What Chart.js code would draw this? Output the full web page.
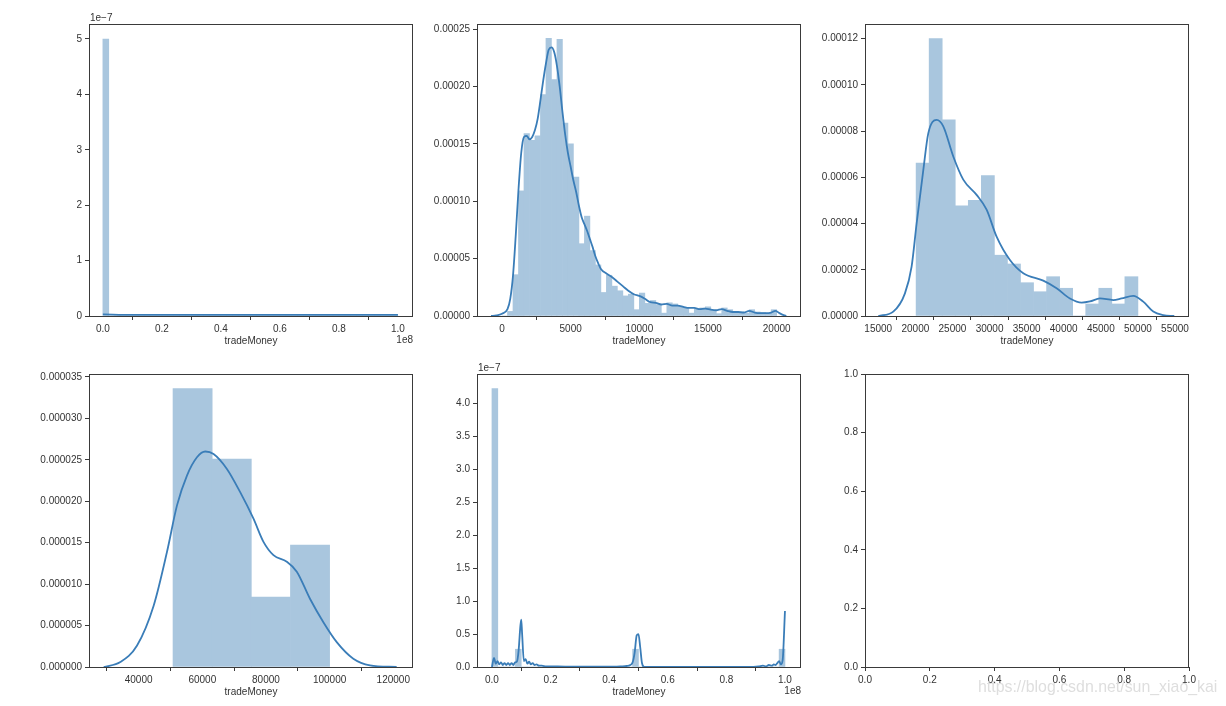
<!DOCTYPE html>
<html>
<head>
<meta charset="utf-8">
<script src="https://cdn.jsdelivr.net/npm/chart.js@4.4.0/dist/chart.umd.min.js"></script>
<style>
  body { margin: 0; background: #fff; width: 1226px; height: 706px; overflow: hidden; position: relative; }
  canvas { position: absolute; }
  #mark { position: absolute; left: 978px; top: 678px; font: 15.9px "Liberation Sans", Arial, sans-serif; color: #dedede; white-space: nowrap; }
</style>
</head>
<body>
<canvas id="c1"></canvas>
<canvas id="c2"></canvas>
<canvas id="c3"></canvas>
<canvas id="c4"></canvas>
<canvas id="c5"></canvas>
<canvas id="c6"></canvas>
<div id="mark">https://blog.csdn.net/sun_xiao_kai</div>
<script>
// ---- plot 1: all tradeMoney (x in 1e8, y in 1e-7) ----
var p1BinStart = 0;
var p1BinWidth = 0.02;
var p1Density = [5.0, 0, 0, 0, 0, 0, 0, 0, 0, 0,
                 0, 0, 0, 0, 0, 0, 0, 0, 0, 0,
                 0, 0, 0, 0, 0, 0, 0, 0, 0, 0,
                 0, 0, 0, 0, 0, 0, 0, 0, 0, 0,
                 0, 0, 0, 0, 0, 0, 0, 0, 0, 0];
var p1KdeX = [0, 0.1, 0.2, 0.3, 0.4, 0.5, 0.6, 0.7, 0.8, 0.9, 1.0];
var p1KdeY = [0.03, 0.02, 0.02, 0.02, 0.02, 0.02, 0.02, 0.02, 0.02, 0.02, 0.02];
var p1XTicks = [0, 0.2, 0.4, 0.6, 0.8, 1.0];
var p1YTicks = [0, 1, 2, 3, 4, 5];

// ---- plot 2: tradeMoney up to 20000 ----
var p2BinStart = 0;
var p2BinWidth = 400;
var p2Density = [0, 0.000004, 0.000036, 0.000109, 0.000159, 0.000153, 0.000157, 0.000193, 0.000242, 0.000206,
                 0.000241, 0.000168, 0.000150, 0.000121, 0.000063, 0.000087, 0.000057, 0.0000445, 0.0000205, 0.0000355,
                 0.000026, 0.000022, 0.0000175, 0.000019, 0.0000055, 0.000020, 0.000011, 0.0000135, 0.000010, 0.0000025,
                 0.0000115, 0.0000105, 0.0000085, 0.0000075, 0.0000025, 0.0000065, 0.000007, 0.000008, 0.000005, 0.000002,
                 0.000007, 0.0000055, 0.000004, 0.000004, 0.0000025, 0.0000055, 0.0000035, 0.000003, 0.0000025, 0.0000055];
var p2KdeX = [-800, -400, 0, 400, 600, 800, 1000, 1200, 1400, 1600, 1800, 2000, 2200, 2400, 2600, 2800, 3000, 3200, 3400, 3600,
              3800, 4000, 4200, 4400, 4600, 4800, 5000, 5200, 5400, 5600, 5800, 6000, 6200, 6400, 6600, 6800, 7000, 7200, 7600, 8000,
              8400, 8800, 9200, 9600, 10000, 10400, 10800, 11200, 11600, 12000, 12400, 12800, 13200, 13600, 14000, 14400, 14800, 15200, 15600, 16000,
              16400, 16800, 17200, 17600, 18000, 18400, 18800, 19200, 19600, 19900, 20200, 20500, 20700];
var p2KdeY = [0, 0.0000005, 0.000002, 0.000006, 0.000015, 0.000035, 0.00007, 0.00011, 0.000142, 0.000156, 0.000157, 0.000154, 0.000156, 0.000162, 0.000172, 0.000188, 0.000205, 0.00022, 0.000232, 0.000234,
              0.00023, 0.000218, 0.0002, 0.000178, 0.000158, 0.000142, 0.00013, 0.000118, 0.000108, 0.000096, 0.000086, 0.00008, 0.000074, 0.000067, 0.00006, 0.000052, 0.000046, 0.000041, 0.000037, 0.000034,
              0.00003, 0.000026, 0.000022, 0.000019, 0.0000175, 0.000015, 0.000012, 0.0000115, 0.00001, 0.0000105, 0.000009, 0.000009, 0.000008, 0.000007, 0.000007, 0.000006, 0.0000065, 0.0000055, 0.000005, 0.000006,
              0.0000045, 0.0000035, 0.0000035, 0.000003, 0.0000045, 0.000003, 0.0000025, 0.0000025, 0.000003, 0.0000045, 0.0000025, 0.0000008, 0];
var p2XTicks = [0, 5000, 10000, 15000, 20000];
var p2YTicks = [0, 0.00005, 0.0001, 0.00015, 0.0002, 0.00025];

// ---- plot 3: 20000 - 50000 ----
var p3BinStart = 20100;
var p3BinWidth = 1759;
var p3Density = [0.0000661, 0.00012, 0.0000848, 0.0000477, 0.00005, 0.0000607, 0.0000263, 0.0000225, 0.0000144,
                 0.0000105, 0.000017, 0.000012, 0, 0.0000052, 0.000012, 0.0000052, 0.000017];
var p3KdeX = [15000, 17022, 18594, 19493, 20167, 21065, 21740, 22863, 23762, 25110, 26458, 28256, 29604, 30952, 32750,
              34547, 37243, 39040, 40837, 42410, 43533, 44881, 46679, 47802, 49375, 50723, 52071, 53419, 54902];
var p3KdeY = [0, 0.0000019, 0.0000098, 0.0000214, 0.00004, 0.000063, 0.000079, 0.0000848, 0.000082, 0.000069, 0.000059, 0.0000524, 0.000046, 0.0000343, 0.0000242,
              0.0000185, 0.0000153, 0.000012, 0.0000076, 0.0000058, 0.0000063, 0.0000076, 0.0000069, 0.0000076, 0.0000087, 0.0000062, 0.0000019, 0.0000004, 0];
var p3XTicks = [15000, 20000, 25000, 30000, 35000, 40000, 45000, 50000, 55000];
var p3YTicks = [0, 0.00002, 0.00004, 0.00006, 0.00008, 0.0001, 0.00012];

// ---- plot 4: 50000 - 100000 ----
var p4BinStart = 50800;
var p4BinWidth = 12300;
var p4Density = [0.0000336, 0.0000251, 0.00000845, 0.0000147];
var p4KdeX = [29020, 34260, 39500, 44710, 48910, 52050, 55180, 58320, 60930, 63530, 67730, 71900, 76080, 79220, 82350,
              86550, 89690, 93870, 98040, 102240, 107450, 112690, 121060];
var p4KdeY = [0, 0.0000006, 0.0000026, 0.0000074, 0.0000139, 0.0000195, 0.0000231, 0.0000253, 0.000026, 0.0000257, 0.0000239, 0.0000211, 0.0000179, 0.0000151, 0.0000135,
              0.0000127, 0.0000115, 0.0000082, 0.0000054, 0.000003, 0.000001, 0.0000002, 0];
var p4XTicks = [40000, 60000, 80000, 100000, 120000];
var p4YTicks = [0, 0.000005, 0.00001, 0.000015, 0.00002, 0.000025, 0.00003, 0.000035];

// ---- plot 5: above 100000 (x in 1e8, y in 1e-7) ----
var p5BinStart = 0;
var p5BinWidth = 0.02;
var p5Density = [4.23, 0, 0, 0, 0.27, 0, 0, 0, 0, 0,
                 0, 0, 0, 0, 0, 0, 0, 0, 0, 0,
                 0, 0, 0, 0, 0.27, 0, 0, 0, 0, 0,
                 0, 0, 0, 0, 0, 0, 0, 0, 0, 0,
                 0, 0, 0, 0, 0, 0, 0, 0, 0, 0.27];
var p5KdeX = [0, 0.007, 0.013, 0.019, 0.025, 0.031, 0.037, 0.043, 0.049, 0.055, 0.061, 0.067, 0.073, 0.079, 0.085, 0.091,
              0.097, 0.100, 0.103, 0.109, 0.115, 0.121, 0.127, 0.133, 0.139, 0.145, 0.152, 0.160, 0.170, 0.185, 0.200,
              0.250, 0.300, 0.350, 0.400, 0.440, 0.460, 0.472, 0.480, 0.487, 0.494, 0.500, 0.506, 0.512, 0.520, 0.600,
              0.700, 0.800, 0.880, 0.910, 0.925, 0.935, 0.945, 0.955, 0.962, 0.968, 0.974, 0.980, 0.986, 0.992, 1.000];
var p5KdeY = [0, 0.14, 0.05, 0.09, 0.04, 0.07, 0.03, 0.06, 0.03, 0.06, 0.03, 0.06, 0.03, 0.07, 0.08, 0.25,
              0.62, 0.72, 0.50, 0.09, 0.12, 0.05, 0.08, 0.04, 0.06, 0.03, 0.04, 0.02, 0.02, 0.01, 0.01,
              0.005, 0.005, 0.005, 0.005, 0.01, 0.015, 0.03, 0.07, 0.22, 0.48, 0.50, 0.30, 0.06, 0, 0,
              0, 0, 0, 0.01, 0.02, 0.01, 0.03, 0.02, 0.04, 0.03, 0.06, 0.09, 0.04, 0.10, 0.85];
var p5XTicks = [0, 0.2, 0.4, 0.6, 0.8, 1.0];
var p5YTicks = [0, 0.5, 1.0, 1.5, 2.0, 2.5, 3.0, 3.5, 4.0];

// ---- plot 6: empty axes ----
var p6Ticks = [0, 0.2, 0.4, 0.6, 0.8, 1.0];

// layout of the 2x3 grid (page pixels)
var colLeft = [89, 477, 865];
var plotW = 324;
var rowTop = [24, 374];
var rowH = [292, 293];
var AXIS_W = 88, AXIS_H = 40, PAD_T = 24, PAD_R = 24;

var textColor = '#333333';
var spineColor = '#3a3a3a';
var barColor = '#a9c6de';
var lineColor = '#3a7db8';
var fontFamily = '"Liberation Sans", Arial, sans-serif';

var framePlugin = {
    id: 'frame',
    afterDraw: function(chart, args, opts) {
        var ca = chart.chartArea;
        var ctx = chart.ctx;
        ctx.save();
        ctx.strokeStyle = spineColor;
        ctx.lineWidth = 1;
        ctx.strokeRect(ca.left + 0.5, ca.top + 0.5, ca.right - ca.left - 1, ca.bottom - ca.top);
        ctx.fillStyle = textColor;
        ctx.font = '10px ' + fontFamily;
        ctx.textBaseline = 'middle';
        if (opts.yOffset) {
            ctx.textAlign = 'left';
            ctx.fillText(opts.yOffset, ca.left + 1, ca.top - 6);
        }
        if (opts.xOffset) {
            ctx.textAlign = 'right';
            ctx.fillText(opts.xOffset, ca.right, ca.bottom + 24);
        }
        ctx.restore();
    }
};

function fmt(v, dec) {
    return Number(v).toFixed(dec);
}

function axis(min, max, ticks, dec, isX, title) {
    return {
        type: 'linear',
        min: min,
        max: max,
        offset: false,
        afterFit: function(s) {
            if (isX) { s.height = AXIS_H; } else { s.width = AXIS_W; }
        },
        afterBuildTicks: function(s) {
            s.ticks = ticks.map(function(v) { return { value: v }; });
        },
        grid: { display: true, drawOnChartArea: false, drawTicks: true, tickLength: 4, tickWidth: 1, tickColor: spineColor },
        border: { display: false },
        ticks: {
            padding: 3,
            color: textColor,
            autoSkip: false,
            maxRotation: 0,
            font: { family: fontFamily, size: 10 },
            callback: function(v) { return fmt(v, dec); }
        },
        title: {
            display: !!title,
            text: title || '',
            color: textColor,
            font: { family: fontFamily, size: 10 },
            padding: { top: 0, bottom: 9 }
        }
    };
}

function placeCanvas(id, col, row) {
    var cv = document.getElementById(id);
    cv.width = AXIS_W + plotW + PAD_R;
    cv.height = PAD_T + rowH[row] + AXIS_H;
    cv.style.left = (colLeft[col] - AXIS_W) + 'px';
    cv.style.top = (rowTop[row] - PAD_T) + 'px';
    return cv;
}

function distPlot(id, col, row, spec) {
    var cv = placeCanvas(id, col, row);
    var bars = spec.density.map(function(v, i) {
        return { x: spec.binStart + (i + 0.5) * spec.binWidth, y: v };
    });
    var kde = spec.kdeX.map(function(x, i) {
        return { x: x, y: spec.kdeY[i] };
    });
    return new Chart(cv, {
        type: 'bar',
        data: {
            datasets: [{
                type: 'line',
                data: kde,
                borderColor: lineColor,
                borderWidth: 1.8,
                pointRadius: 0,
                fill: false,
                cubicInterpolationMode: 'monotone',
                order: 1
            }, {
                type: 'bar',
                data: bars,
                backgroundColor: barColor,
                borderWidth: 0,
                barPercentage: 1,
                categoryPercentage: 1,
                order: 2
            }]
        },
        options: {
            responsive: false,
            devicePixelRatio: 1,
            animation: false,
            events: [],
            layout: { padding: { left: 0, top: PAD_T, right: PAD_R, bottom: 0 } },
            plugins: {
                legend: { display: false },
                tooltip: { enabled: false },
                frame: { xOffset: spec.xOffset, yOffset: spec.yOffset }
            },
            scales: {
                x: axis(spec.xMin, spec.xMax, spec.xTicks, spec.xDec, true, 'tradeMoney'),
                y: axis(0, spec.yMax, spec.yTicks, spec.yDec, false, null)
            }
        },
        plugins: [framePlugin]
    });
}

distPlot('c1', 0, 0, {
    binStart: p1BinStart, binWidth: p1BinWidth, density: p1Density, kdeX: p1KdeX, kdeY: p1KdeY,
    xMin: -0.047, xMax: 1.051, yMax: 5.27, xTicks: p1XTicks, yTicks: p1YTicks, xDec: 1, yDec: 0,
    xOffset: '1e8', yOffset: '1e\u22127'
});
distPlot('c2', 1, 0, {
    binStart: p2BinStart, binWidth: p2BinWidth, density: p2Density, kdeX: p2KdeX, kdeY: p2KdeY,
    xMin: -1820, xMax: 21770, yMax: 0.0002544, xTicks: p2XTicks, yTicks: p2YTicks, xDec: 0, yDec: 5
});
distPlot('c3', 2, 0, {
    binStart: p3BinStart, binWidth: p3BinWidth, density: p3Density, kdeX: p3KdeX, kdeY: p3KdeY,
    xMin: 13210, xMax: 56890, yMax: 0.0001263, xTicks: p3XTicks, yTicks: p3YTicks, xDec: 0, yDec: 5
});
distPlot('c4', 0, 1, {
    binStart: p4BinStart, binWidth: p4BinWidth, density: p4Density, kdeX: p4KdeX, kdeY: p4KdeY,
    xMin: 24400, xMax: 126200, yMax: 0.00003535, xTicks: p4XTicks, yTicks: p4YTicks, xDec: 0, yDec: 6
});
distPlot('c5', 1, 1, {
    binStart: p5BinStart, binWidth: p5BinWidth, density: p5Density, kdeX: p5KdeX, kdeY: p5KdeY,
    xMin: -0.051, xMax: 1.0547, yMax: 4.45, xTicks: p5XTicks, yTicks: p5YTicks, xDec: 1, yDec: 1,
    xOffset: '1e8', yOffset: '1e\u22127'
});

// empty sixth axes
var cv6 = placeCanvas('c6', 2, 1);
var chart6 = new Chart(cv6, {
    type: 'scatter',
    data: { datasets: [] },
    options: {
        responsive: false,
        devicePixelRatio: 1,
        animation: false,
        events: [],
        layout: { padding: { left: 0, top: PAD_T, right: PAD_R, bottom: 0 } },
        plugins: { legend: { display: false }, tooltip: { enabled: false }, frame: {} },
        scales: {
            x: axis(0, 1, p6Ticks, 1, true, null),
            y: axis(0, 1, p6Ticks, 1, false, null)
        }
    },
    plugins: [framePlugin]
});
</script>
</body>
</html>
